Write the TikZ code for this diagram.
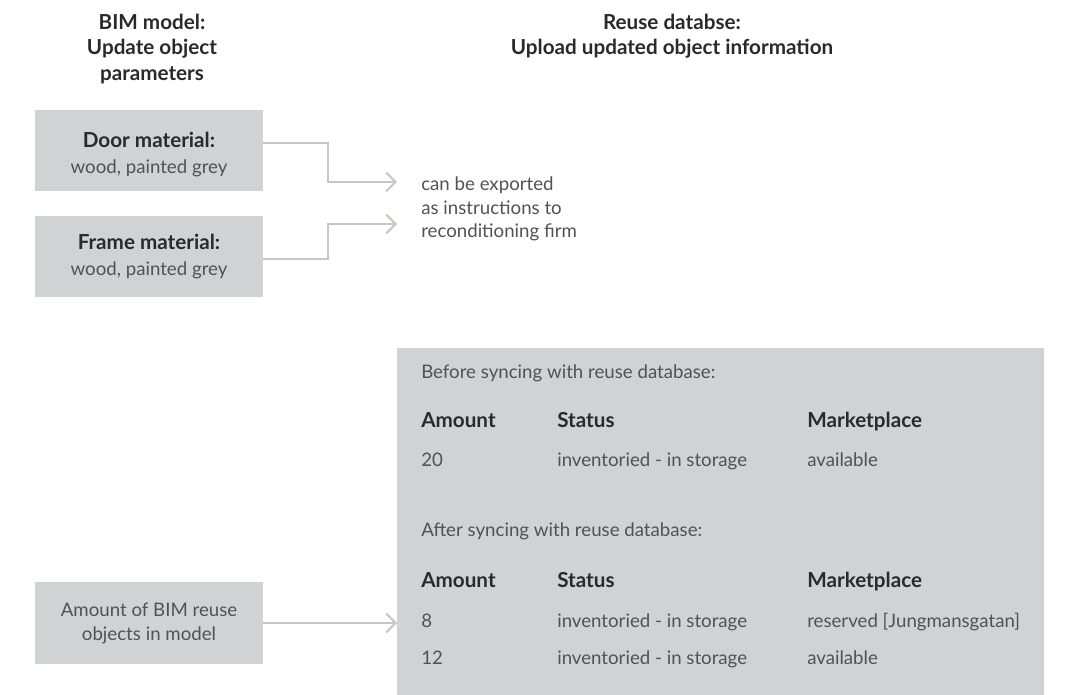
\documentclass[tikz,border=0pt]{standalone}
\usepackage{fontspec}
\setmainfont{Lato}
\usetikzlibrary{arrows.meta,calc}
\definecolor{boxgrey}{HTML}{D1D2D4}
\definecolor{txt}{HTML}{525252}
\definecolor{dark}{HTML}{2A2A2A}
\definecolor{arr}{HTML}{C8C8C0}
\begin{document}
\begin{tikzpicture}[x=0.75pt,y=-0.75pt,
  body/.style={font=\fontsize{14}{17.5}\selectfont, text=txt, inner sep=0pt},
  hdr/.style={font=\fontsize{15.5}{19}\selectfont\bfseries, text=dark, inner sep=0pt},
  thd/.style={font=\fontsize{15.5}{18}\selectfont\bfseries, text=dark, inner sep=0pt, anchor=base west},
  cell/.style={body, anchor=base west},
  graybox/.style={fill=boxgrey, minimum width=171pt, minimum height=61pt, align=center,
    inner sep=0pt, text=txt, font=\fontsize{14}{19.5}\selectfont},
  conn/.style={draw=arr, line width=1.5pt, -{Straight Barb[length=7pt,width=14pt]}}]
\useasboundingbox (0,0) rectangle (1076,695);

% headers
\node[hdr, align=center] (h1) at (152,49) {BIM model:\\Update object\\parameters};
\node[hdr, align=center] (h2) at (672,36) {Reuse databse:\\Upload updated object information};

% left boxes
\node[graybox] (door) at (149,150.5) {\rule{0pt}{17pt}{\fontsize{15.5}{19.5}\selectfont\bfseries\color{dark}Door material:}\\wood, painted grey};
\node[graybox] (frame) at (149,256.5) {{\fontsize{15.5}{19.5}\selectfont\bfseries\color{dark}Frame material:}\\wood, painted grey};
\node[graybox, minimum height=61.5pt, font=\fontsize{14}{18}\selectfont] (amt) at (149,623) {Amount of BIM reuse\\objects in model};

% exported text
\node[body, align=left, anchor=west] (exp) at (421,209) {can be exported\\as instructions to\\reconditioning firm};
\coordinate (t1) at (397,182);
\coordinate (t2) at (397,224);

% database box
\node[fill=boxgrey, anchor=north west, minimum width=485.25pt, minimum height=260.25pt, inner sep=0pt] (db) at (397,348) {};

\node[cell] (before) at (421,379) {Before syncing with reuse database:};
\node[thd] (a1) at (421,428) {Amount};
\node[thd] (s1) at (557,428) {Status};
\node[thd] (m1) at (807,428) {Marketplace};
\node[cell] (r1a) at (421,467) {20};
\node[cell] (r1s) at (557,467) {inventoried - in storage};
\node[cell] (r1m) at (807,467) {available};

\node[cell] (after) at (421,537) {After syncing with reuse database:};
\node[thd] (a2) at (421,588) {Amount};
\node[thd] (s2) at (557,588) {Status};
\node[thd] (m2) at (807,588) {Marketplace};
\node[cell] (r2a) at (421,628) {8};
\node[cell] (r2s) at (557,628) {inventoried - in storage};
\node[cell] (r2m) at (807,628) {reserved [Jungmansgatan]};
\node[cell] (r3a) at (421,664) {12};
\node[cell] (r3s) at (557,664) {inventoried - in storage};
\node[cell] (r3m) at (807,664) {available};

% connectors
\draw[conn] ([yshift=5.6pt]door.east) -- ++(65,0) |- (t1);
\draw[conn] ([yshift=-2pt]frame.east) -- ++(65,0) |- (t2);
\draw[conn] (amt.east) -- (amt.east -| db.west);
\end{tikzpicture}
\end{document}
